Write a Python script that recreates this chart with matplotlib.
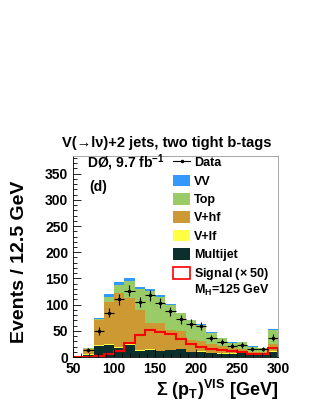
import numpy as np
import matplotlib.pyplot as plt
from matplotlib.patches import Patch
from matplotlib.lines import Line2D

plt.rcParams['font.family'] = ['Liberation Sans', 'DejaVu Sans']
plt.rcParams['font.weight'] = 'bold'
plt.rcParams['mathtext.fontset'] = 'custom'
plt.rcParams['mathtext.rm'] = 'Liberation Sans:bold'
plt.rcParams['mathtext.bf'] = 'Liberation Sans:bold'

# 20 bins of 12.5 GeV from 50 to 300
edges = np.arange(50, 300.1, 12.5)

multijet = [0, 4, 21, 23, 17, 23, 12, 13, 11, 13, 15, 9, 10, 7, 6, 6, 10, 5, 5, 10]
vlf = [0, 1, 2, 1, 2, 3, 1, 2, 1, 1, 1, 1, 1, 1, 1, 1, 1, 1, 0.5, 1]
vhf_top = [0, 16, 71, 105, 122, 113, 90, 65, 65, 52, 49, 33, 30, 24, 22, 17, 16, 10, 9, 25]
top_top = [0, 17, 73, 115, 138, 145, 129, 126, 115, 99, 84, 70, 62, 46, 36, 27, 28, 20, 17, 51]
vv_top = [0, 17.5, 75, 120, 144, 151, 134, 129, 118, 101, 85, 71, 63, 47, 37, 28, 29, 21, 18, 53]
signal = [0, 0, 2.5, 6, 11, 27, 43, 52, 47, 44, 34, 25, 20, 15, 14, 11, 10, 6, 6, 17]
data = [0, 13, 50, 85, 110, 127, 105, 118, 103, 87, 72, 64, 59, 36, 29, 22, 23, 15, 15, 37]

multijet = np.array(multijet, float)
vlf = np.array(vlf, float)
vhf = np.array(vhf_top) - multijet - vlf
top = np.array(top_top) - np.array(vhf_top)
vv = np.array(vv_top) - np.array(top_top)

colors = {
    'Multijet': '#0b302c',
    'V+lf': '#ffff44',
    'V+hf': '#cc9933',
    'Top': '#99cc66',
    'VV': '#3399ff',
}

fig = plt.figure(figsize=(3.16, 4.09), dpi=100)
ax = fig.add_axes([0.231, 0.127, 0.649, 0.492])

left = edges[:-1]
bottom = np.zeros(len(left))
for name, vals in [('Multijet', multijet), ('V+lf', vlf), ('V+hf', vhf),
                   ('Top', top), ('VV', vv)]:
    ax.bar(left, vals, width=12.5, bottom=bottom, align='edge',
           color=colors[name], linewidth=0)
    bottom = bottom + vals

ax.stairs(signal, edges, color='red', linewidth=1.5)

centers = left + 6.25
d = np.array(data, float)
mask = d > 0
ax.errorbar(centers[mask], d[mask], yerr=np.sqrt(d[mask]), xerr=6.25,
            fmt='o', ms=1.5, color='black', elinewidth=0.8, capsize=0)

ax.set_xlim(50, 300)
ax.set_ylim(0, 384)
ax.set_xticks([50, 100, 150, 200, 250, 300])
ax.set_yticks(np.arange(0, 351, 50))
ax.set_xticks(np.arange(50, 301, 10), minor=True)
ax.set_yticks(np.arange(0, 381, 10), minor=True)
ax.tick_params(direction='in', labelsize=10, length=6, width=0.6)
ax.tick_params(which='minor', direction='in', length=3, width=0.6)
for lab in ax.get_xticklabels() + ax.get_yticklabels():
    lab.set_fontweight('bold')
for s in ax.spines.values():
    s.set_linewidth(0.6)
ax.spines['right'].set_color('#999999')
ax.spines['top'].set_color('#999999')

handles = [
    Line2D([], [], color='black', marker='o', ms=1.5, lw=0.8),
    Patch(facecolor=colors['VV'], edgecolor='none'),
    Patch(facecolor=colors['Top'], edgecolor='none'),
    Patch(facecolor=colors['V+hf'], edgecolor='none'),
    Patch(facecolor=colors['V+lf'], edgecolor='none'),
    Patch(facecolor=colors['Multijet'], edgecolor='none'),
    Patch(facecolor='white', edgecolor='red', linewidth=1.2),
]
labels = ['Data', 'VV', 'Top', 'V+hf', 'V+lf', 'Multijet', r'Signal ($\times$ 50)']
ax.legend(handles, labels, loc='upper left', bbox_to_anchor=(0.463, 1.022),
          frameon=False, fontsize=9, handlelength=1.4, handleheight=1.05,
          labelspacing=0.42, handletextpad=0.3, borderaxespad=0)
ax.text(0.59, 0.33, r'M$_\mathrm{H}$=125 GeV', transform=ax.transAxes,
        fontsize=9, fontweight='bold', va='center', ha='left')

ax.text(0.07, 0.94, r'DØ, 9.7 fb$^\mathrm{-1}$', transform=ax.transAxes,
        fontsize=10, fontweight='bold', va='baseline', ha='left')
ax.text(0.08, 0.826, '(d)', transform=ax.transAxes,
        fontsize=10, fontweight='bold', va='baseline', ha='left')

fig.text(62 / 316, 1 - 143 / 409, 'V(→lν)+2 jets, two tight b-tags',
         fontsize=10.5, fontweight='bold', ha='left', va='center')

fig.text(20 / 316, 1 - 262 / 409, 'Events / 12.5 GeV', rotation=90,
         fontsize=14, fontweight='bold', ha='center', va='center')
fig.text(278 / 316, 1 - 390 / 409,
         r'$\Sigma$ (p$_\mathrm{T}$)$^\mathrm{VIS}$ [GeV]',
         fontsize=13, fontweight='bold', ha='right', va='center')

fig.savefig('out.png', dpi=100)
